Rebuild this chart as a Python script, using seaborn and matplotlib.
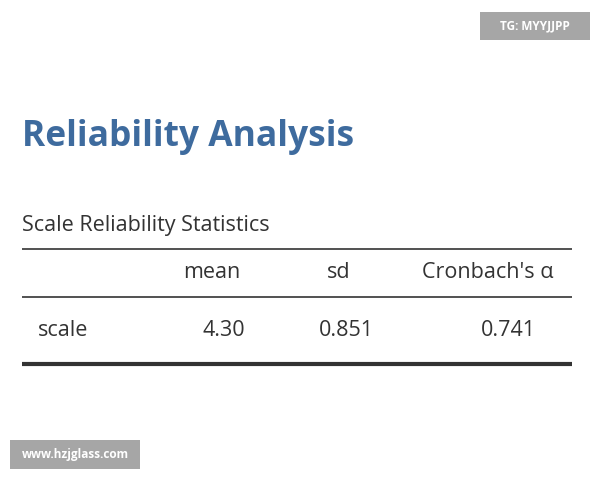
import matplotlib
matplotlib.use("Agg")
import matplotlib.pyplot as plt
import seaborn as sns

# table data
title = "Reliability Analysis"
subtitle = "Scale Reliability Statistics"
columns = ["mean", "sd", "Cronbach's α"]
row_labels = ["scale"]
values = [["4.30", "0.851", "0.741"]]

sns.set_theme(style="white")
plt.rcParams["font.family"] = ["Open Sans", "DejaVu Sans"]

W, H = 600, 480
fig = plt.figure(figsize=(6, 4.8), dpi=100)
ax = fig.add_axes([0, 0, 1, 1])
ax.set_xlim(0, W)
ax.set_ylim(H, 0)
ax.axis("off")

txt = "#333333"
body = 15.5
ax.text(22, 137, title, fontsize=25.5, fontweight="bold", color="#3e6b9e", va="center", ha="left")
ax.text(22, 226, subtitle, fontsize=body, color=txt, va="center", ha="left")

ax.hlines(249, 22, 572, color=txt, lw=1.2)
ax.hlines(297, 22, 572, color=txt, lw=1.2)
ax.hlines(364, 22, 572, color=txt, lw=3)

head_x = [212, 339, 488]
for x, c in zip(head_x, columns):
    ax.text(x, 273, c, fontsize=body, color=txt, ha="center", va="center")

val_x = [245, 374, 536]
for i, (lab, row) in enumerate(zip(row_labels, values)):
    y = 331 + i * 40
    ax.text(38, y, lab, fontsize=body, color=txt, ha="left", va="center")
    for x, v in zip(val_x, row):
        ax.text(x, y, v, fontsize=body, color=txt, ha="right", va="center")

# watermarks
ax.add_patch(plt.Rectangle((480, 12), 110, 28, color="#a6a6a6", lw=0))
ax.text(535, 26, "TG: MYYJJPP", fontsize=8.5, fontweight="bold", color="white", ha="center", va="center")
ax.add_patch(plt.Rectangle((10, 440), 130, 29, color="#a6a6a6", lw=0))
ax.text(75, 454.5, "www.hzjglass.com", fontsize=8.5, fontweight="bold", color="white", ha="center", va="center")

fig.savefig("out.png", dpi=100)
